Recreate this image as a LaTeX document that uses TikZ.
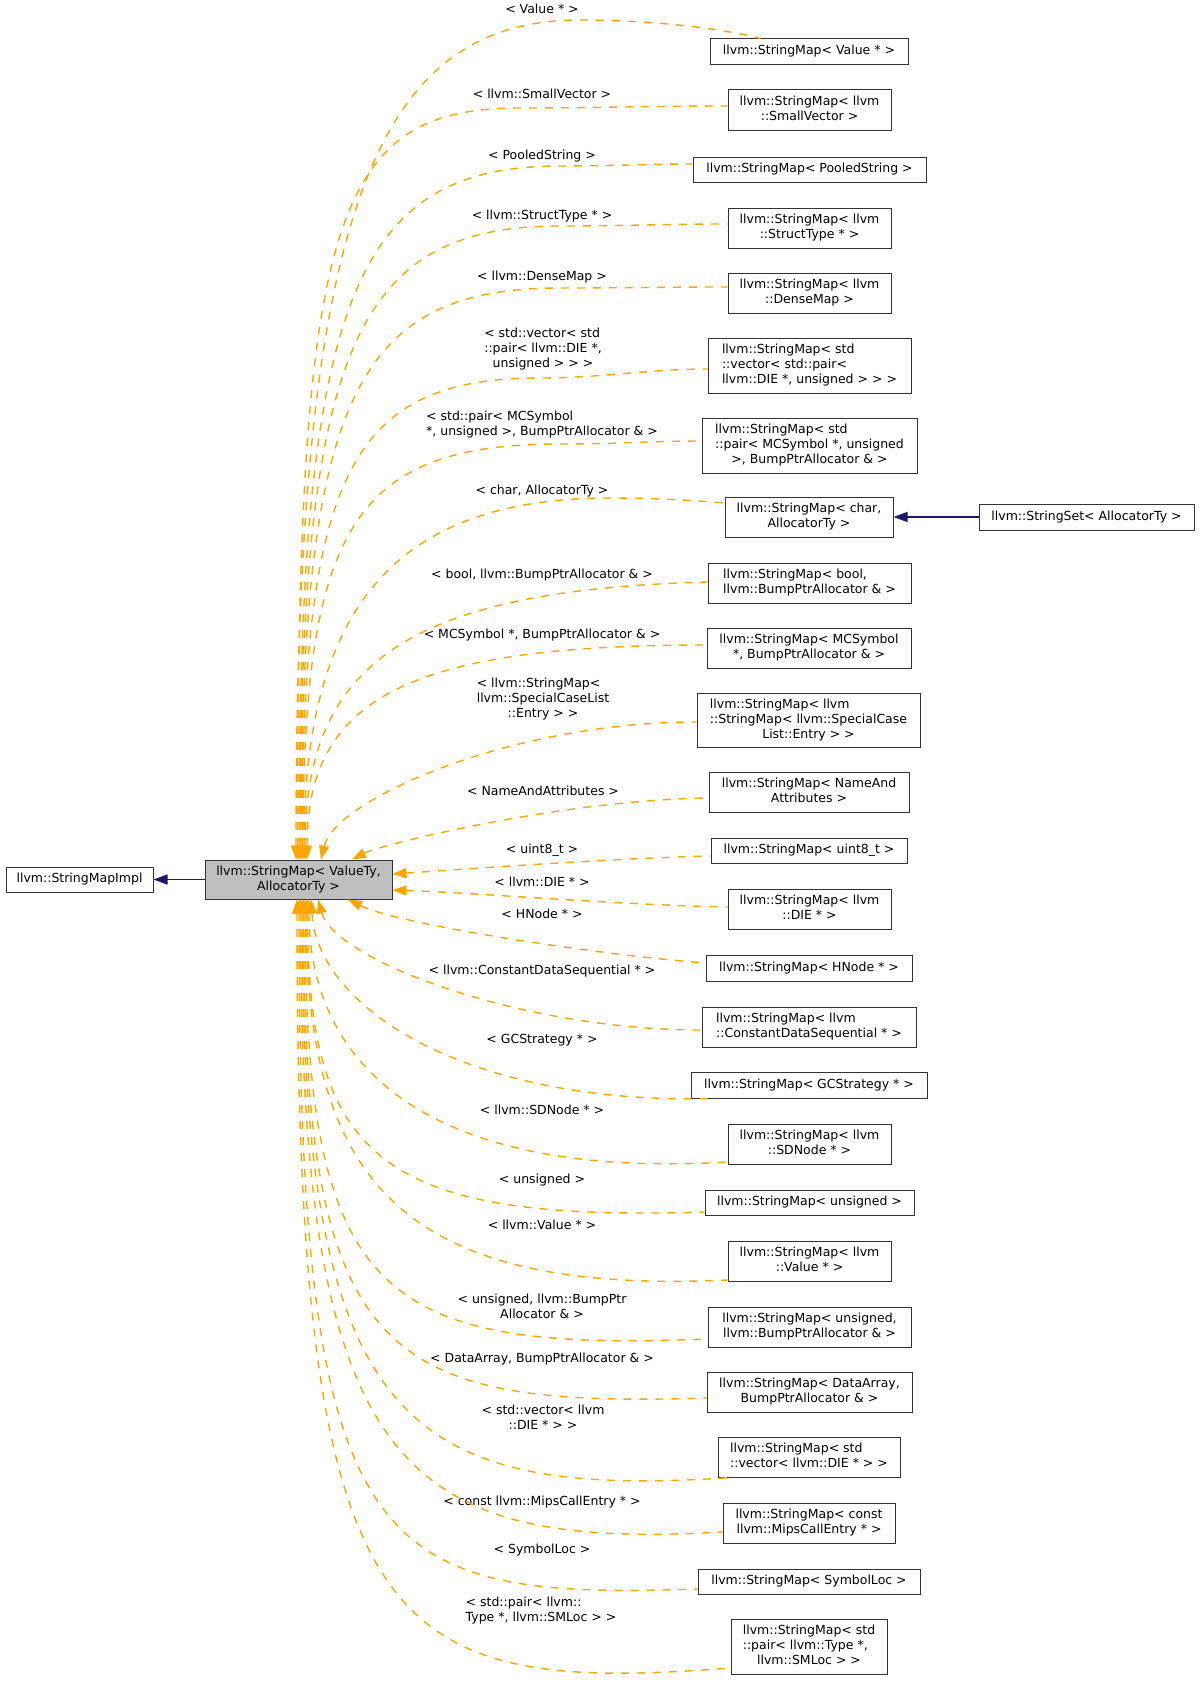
\documentclass[tikz,border=0pt]{standalone}
\usepackage{fontspec}
\setmainfont{DejaVu Sans}
\usetikzlibrary{arrows.meta}
\definecolor{edgeor}{HTML}{FFA500}
\definecolor{navyblue}{HTML}{191970}
\definecolor{maingray}{HTML}{BFBFBF}
\newcommand\boxtext[1]{\begin{tabular}{@{}l@{}}#1\end{tabular}}
\newcommand\ctrline[1]{\multicolumn{1}{@{}c@{}}{#1}}
\begin{document}
\begin{tikzpicture}[x=1pt,y=-1pt,
  every node/.style={font=\fontsize{12.5pt}{15pt}\selectfont, inner sep=0pt},
  cls/.style={draw=black!80, line width=1pt, fill=white},
  lab/.style={},
  dep/.style={draw=edgeor, line width=1.4pt, dash pattern=on 8pt off 8pt, {Triangle[length=14pt,width=10pt,fill=edgeor]}-},
  inh/.style={draw=navyblue, line width=1.4pt, -{Triangle[length=14pt,width=10pt,fill=navyblue]}},
]
\useasboundingbox (0,0) rectangle (1200,1691);

% main nodes
\node[cls, fill=maingray, minimum width=187pt, minimum height=39pt] (m) at (298.5,879.5) {\boxtext{llvm::StringMap< ValueTy,\\\ctrline{AllocatorTy >}}};
\node[cls, minimum width=147pt, minimum height=25pt] (impl) at (79.5,879.5) {\boxtext{llvm::StringMapImpl}};
\node[cls, minimum width=215pt, minimum height=26pt] (set) at (1086.5,517) {\boxtext{llvm::StringSet< AllocatorTy >}};

% derived
\node[cls, minimum width=198pt, minimum height=26pt] (v1) at (809,52) {\boxtext{llvm::StringMap< Value * >}};
\node[cls, minimum width=163pt, minimum height=41pt] (v2) at (809.5,110.5) {\boxtext{llvm::StringMap< llvm\\\ctrline{::SmallVector >}}};
\node[cls, minimum width=233pt, minimum height=25pt] (v3) at (809.5,169.5) {\boxtext{llvm::StringMap< PooledString >}};
\node[cls, minimum width=163pt, minimum height=40pt] (v4) at (809.5,228) {\boxtext{llvm::StringMap< llvm\\\ctrline{::StructType * >}}};
\node[cls, minimum width=163pt, minimum height=40pt] (v5) at (809.5,293) {\boxtext{llvm::StringMap< llvm\\\ctrline{::DenseMap >}}};
\node[cls, minimum width=203pt, minimum height=55pt] (v6) at (809.5,365.5) {\boxtext{llvm::StringMap< std\\::vector< std::pair<\\\ctrline{llvm::DIE *, unsigned > > >}}};
\node[cls, minimum width=215pt, minimum height=55pt] (v7) at (809.5,445.5) {\boxtext{llvm::StringMap< std\\::pair< MCSymbol *, unsigned\\\ctrline{>, BumpPtrAllocator \& >}}};
\node[cls, minimum width=168pt, minimum height=40pt] (v8) at (809,517) {\boxtext{llvm::StringMap< char,\\\ctrline{AllocatorTy >}}};
\node[cls, minimum width=203pt, minimum height=40pt] (v9) at (809.5,583) {\boxtext{llvm::StringMap< bool,\\\ctrline{llvm::BumpPtrAllocator \& >}}};
\node[cls, minimum width=204pt, minimum height=40pt] (v10) at (809,648) {\boxtext{llvm::StringMap< MCSymbol\\\ctrline{*, BumpPtrAllocator \& >}}};
\node[cls, minimum width=223pt, minimum height=54pt] (v11) at (808.5,720) {\boxtext{llvm::StringMap< llvm\\::StringMap< llvm::SpecialCase\\\ctrline{List::Entry > >}}};
\node[cls, minimum width=200pt, minimum height=40pt] (v12) at (809,792) {\boxtext{llvm::StringMap< NameAnd\\\ctrline{Attributes >}}};
\node[cls, minimum width=196pt, minimum height=25pt] (v13) at (809,850.5) {\boxtext{llvm::StringMap< uint8\_t >}};
\node[cls, minimum width=163pt, minimum height=40pt] (v14) at (809.5,909) {\boxtext{llvm::StringMap< llvm\\\ctrline{::DIE * >}}};
\node[cls, minimum width=206pt, minimum height=26pt] (v15) at (809,968) {\boxtext{llvm::StringMap< HNode * >}};
\node[cls, minimum width=214pt, minimum height=40pt] (v16) at (809,1027) {\boxtext{llvm::StringMap< llvm\\\ctrline{::ConstantDataSequential * >}}};
\node[cls, minimum width=236pt, minimum height=26pt] (v17) at (809,1085) {\boxtext{llvm::StringMap< GCStrategy * >}};
\node[cls, minimum width=163pt, minimum height=40pt] (v18) at (809.5,1144) {\boxtext{llvm::StringMap< llvm\\\ctrline{::SDNode * >}}};
\node[cls, minimum width=209pt, minimum height=25pt] (v19) at (809.5,1202.5) {\boxtext{llvm::StringMap< unsigned >}};
\node[cls, minimum width=163pt, minimum height=40pt] (v20) at (809.5,1261) {\boxtext{llvm::StringMap< llvm\\\ctrline{::Value * >}}};
\node[cls, minimum width=203pt, minimum height=40pt] (v21) at (809.5,1327) {\boxtext{llvm::StringMap< unsigned,\\\ctrline{llvm::BumpPtrAllocator \& >}}};
\node[cls, minimum width=205pt, minimum height=40pt] (v22) at (809.5,1392) {\boxtext{llvm::StringMap< DataArray,\\\ctrline{BumpPtrAllocator \& >}}};
\node[cls, minimum width=182pt, minimum height=40pt] (v23) at (809,1457) {\boxtext{llvm::StringMap< std\\\ctrline{::vector< llvm::DIE * > >}}};
\node[cls, minimum width=172pt, minimum height=40pt] (v24) at (809,1523) {\boxtext{llvm::StringMap< const\\\ctrline{llvm::MipsCallEntry * >}}};
\node[cls, minimum width=222pt, minimum height=25pt] (v25) at (809,1581.5) {\boxtext{llvm::StringMap< SymbolLoc >}};
\node[cls, minimum width=156pt, minimum height=55pt] (v26) at (809,1646.5) {\boxtext{llvm::StringMap< std\\::pair< llvm::Type *,\\\ctrline{llvm::SMLoc > >}}};

% labels
\node[lab] (l1) at (542,11) {\boxtext{< Value * >}};
\node[lab] (l2) at (542,96) {\boxtext{< llvm::SmallVector >}};
\node[lab] (l3) at (542,156) {\boxtext{< PooledString >}};
\node[lab] (l4) at (542,216) {\boxtext{< llvm::StructType * >}};
\node[lab] (l5) at (542,277) {\boxtext{< llvm::DenseMap >}};
\node[lab] (l6) at (543,349) {\boxtext{< std::vector< std\\::pair< llvm::DIE *,\\\ctrline{unsigned > > >}}};
\node[lab] (l7) at (542,424.5) {\boxtext{< std::pair< MCSymbol\\\ctrline{*, unsigned >, BumpPtrAllocator \& >}}};
\node[lab] (l8) at (542,491) {\boxtext{< char, AllocatorTy >}};
\node[lab] (l9) at (542,575) {\boxtext{< bool, llvm::BumpPtrAllocator \& >}};
\node[lab] (l10) at (542,635) {\boxtext{< MCSymbol *, BumpPtrAllocator \& >}};
\node[lab] (l11) at (543,699) {\boxtext{< llvm::StringMap<\\llvm::SpecialCaseList\\\ctrline{::Entry > >}}};
\node[lab] (l12) at (543,792) {\boxtext{< NameAndAttributes >}};
\node[lab] (l13) at (542,850) {\boxtext{< uint8\_t >}};
\node[lab] (l14) at (542,883) {\boxtext{< llvm::DIE * >}};
\node[lab] (l15) at (542,915) {\boxtext{< HNode * >}};
\node[lab] (l16) at (542,971) {\boxtext{< llvm::ConstantDataSequential * >}};
\node[lab] (l17) at (542,1040) {\boxtext{< GCStrategy * >}};
\node[lab] (l18) at (542,1111) {\boxtext{< llvm::SDNode * >}};
\node[lab] (l19) at (542,1180) {\boxtext{< unsigned >}};
\node[lab] (l20) at (542,1226) {\boxtext{< llvm::Value * >}};
\node[lab] (l21) at (542,1308) {\boxtext{< unsigned, llvm::BumpPtr\\\ctrline{Allocator \& >}}};
\node[lab] (l22) at (542,1359) {\boxtext{< DataArray, BumpPtrAllocator \& >}};
\node[lab] (l23) at (543,1419) {\boxtext{< std::vector< llvm\\\ctrline{::DIE * > >}}};
\node[lab] (l24) at (542,1502) {\boxtext{< const llvm::MipsCallEntry * >}};
\node[lab] (l25) at (542,1550) {\boxtext{< SymbolLoc >}};
\node[lab] (l26) at (541,1611) {\boxtext{< std::pair< llvm::\\\ctrline{Type *, llvm::SMLoc > >}}};

% inheritance (solid)
\draw[inh] (m.west) -- (impl.east);
\draw[inh] (set.west) -- (v8.east);

% template instantiation edges (dashed)
\draw[dep] ([xshift=-2.5pt]m.north) .. controls (296,230) and (367,20) .. (580,20) .. controls (650,20) and (720,28) .. ([xshift=51pt]v1.north west);
\draw[dep] ([xshift=-1pt]m.north) .. controls (297.5,221) and (331,108) .. (520,108) .. controls (590,108) and (660,106) .. ([yshift=4.5pt]v2.west);
\draw[dep] ([xshift=0.5pt]m.north) .. controls (299,305) and (351,166) .. (560,166) .. controls (610,166) and (650,164) .. ([yshift=5.5pt]v3.west);
\draw[dep] ([xshift=1.5pt]m.north) .. controls (300,353) and (352,226) .. (560,226) .. controls (620,226) and (670,224) .. ([yshift=4pt]v4.west);
\draw[dep] ([xshift=2.5pt]m.north) .. controls (301,402) and (353,288) .. (560,288) .. controls (620,288) and (670,287) .. ([yshift=6pt]v5.west);
\draw[dep] ([xshift=3.5pt]m.north) .. controls (302,474) and (350,378) .. (540,378) .. controls (600,378) and (650,369) .. ([yshift=-3.5pt]v6.west);
\draw[dep] ([xshift=4.5pt]m.north) .. controls (303,527) and (354,444) .. (560,444) .. controls (620,444) and (650,441) .. ([yshift=4.5pt]v7.west);
\draw[dep] ([xshift=5.5pt]m.north) .. controls (304,607) and (396,498) .. (610,498) .. controls (650,498) and (690,500) .. ([yshift=14pt]v8.west);
\draw[dep] ([xshift=6.5pt]m.north) .. controls (305,665) and (406,590) .. ([yshift=1pt]v9.west);
\draw[dep] ([xshift=8.5pt]m.north) .. controls (307,699) and (407,645) .. ([yshift=3pt]v10.west);
\draw[dep] ([xshift=22.5pt]m.north) .. controls (335,800) and (510,722) .. ([yshift=-2pt]v11.west);
\draw[dep] ([xshift=53.5pt]m.north) .. controls (380,845) and (560,800) .. ([yshift=-6pt]v12.west);
\draw[dep] ([yshift=5.5pt]m.east) .. controls (480,868) and (620,858) .. ([yshift=-5.5pt]v13.west);
\draw[dep] ([yshift=-10.5pt]m.east) .. controls (480,893) and (620,905) .. ([yshift=2pt]v14.west);
\draw[dep] ([xshift=49.5pt]m.south) .. controls (400,925) and (600,955) .. ([yshift=5pt]v15.west);
\draw[dep] ([xshift=19.5pt]m.south) .. controls (335,960) and (520,1030) .. ([yshift=-3pt]v16.west);
\draw[dep] ([xshift=12.5pt]m.south) .. controls (318,1010) and (470,1105) .. ([xshift=24pt]v17.south west);
\draw[dep] ([xshift=10.5pt]m.south) .. controls (309,1060) and (420,1180) .. ([yshift=-18pt]v18.west);
\draw[dep] ([xshift=9pt]m.south) .. controls (307.5,1160) and (380,1222) .. ([yshift=-9.5pt]v19.west);
\draw[dep] ([xshift=7.5pt]m.south) .. controls (306,1180) and (400,1295) .. ([yshift=-19pt]v20.west);
\draw[dep] ([xshift=6.5pt]m.south) .. controls (305,1300) and (380,1352) .. ([yshift=-12pt]v21.west);
\draw[dep] ([xshift=5pt]m.south) .. controls (303.5,1360) and (380,1408) .. ([yshift=-6pt]v22.west);
\draw[dep] ([xshift=3.5pt]m.south) .. controls (302,1420) and (400,1500) .. ([xshift=14pt]v23.south west);
\draw[dep] ([xshift=2pt]m.south) .. controls (300.5,1470) and (400,1550) .. ([yshift=-9pt]v24.west);
\draw[dep] ([xshift=0.5pt]m.south) .. controls (299,1560) and (370,1600) .. ([yshift=-7.5pt]v25.west);
\draw[dep] ([xshift=-1.5pt]m.south) .. controls (297,1640) and (380,1695) .. ([yshift=-21.5pt]v26.west);
\end{tikzpicture}
\end{document}
